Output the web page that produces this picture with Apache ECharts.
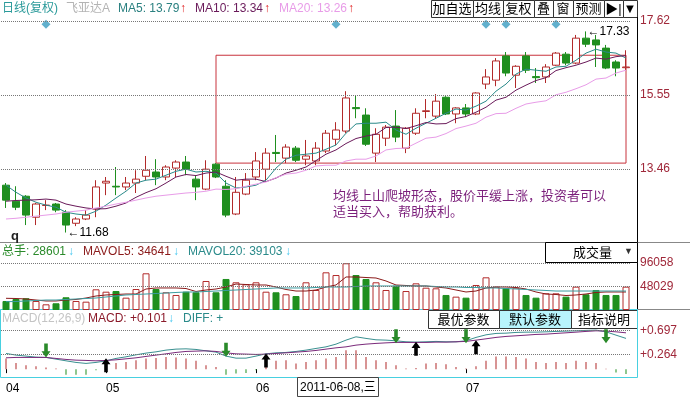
<!DOCTYPE html>
<html>
<head>
<meta charset="utf-8">
<title>飞亚达A 日线</title>
<script src="https://cdn.jsdelivr.net/npm/echarts@6/dist/echarts.min.js"></script>
<style>
html, body { margin: 0; padding: 0; background: #fff; }
#main { width: 690px; height: 397px; }
</style>
</head>
<body>
<div id="main"></div>
<script>
// 交易日
const dates = [
  '2011-04-18','2011-04-19','2011-04-20','2011-04-21','2011-04-22','2011-04-25','2011-04-26','2011-04-27','2011-04-28','2011-04-29',
  '2011-05-11','2011-05-12','2011-05-13','2011-05-16','2011-05-17','2011-05-18','2011-05-19','2011-05-20','2011-05-23','2011-05-24',
  '2011-05-25','2011-05-26','2011-05-27','2011-05-30','2011-05-31',
  '2011-06-01','2011-06-02','2011-06-03','2011-06-07','2011-06-08','2011-06-09','2011-06-10','2011-06-13','2011-06-14','2011-06-15',
  '2011-06-16','2011-06-17','2011-06-20','2011-06-21','2011-06-22','2011-06-23','2011-06-24','2011-06-27','2011-06-28','2011-06-29',
  '2011-06-30',
  '2011-07-01','2011-07-04','2011-07-05','2011-07-06','2011-07-07','2011-07-08','2011-07-11','2011-07-12','2011-07-13','2011-07-14',
  '2011-07-15','2011-07-18','2011-07-19','2011-07-20','2011-07-21','2011-07-22','2011-07-25'
];
// K线 [开, 收, 低, 高]
const kData = [
  [13.01,12.59,12.37,13.07],[12.56,12.39,12.31,12.98],[12.70,12.17,11.89,12.73],[12.11,12.48,11.89,12.51],[12.44,12.45,12.31,12.59],
  [12.48,12.31,12.25,12.51],[12.25,11.89,11.68,12.31],[11.94,12.06,11.86,12.11],[12.06,12.17,12.03,12.31],[12.34,12.96,12.11,13.15],
  [13.07,13.12,12.73,13.24],[12.98,12.96,12.73,13.52],[12.96,13.07,12.87,13.24],[13.07,13.18,12.79,13.43],[13.26,13.43,13.15,13.83],
  [13.38,13.24,13.01,13.74],[13.24,13.52,13.15,13.57],[13.49,13.66,13.24,13.71],[13.66,13.46,13.29,13.83],[13.18,12.96,12.59,13.29],
  [12.90,13.46,12.87,13.71],[13.60,13.24,13.21,13.63],[12.98,12.17,12.11,13.15],[12.20,12.81,12.17,13.24],[12.76,13.15,12.73,13.35],
  [13.24,13.69,13.15,13.94],[13.46,13.91,13.15,14.05],[13.93,13.90,13.66,14.42],[13.77,14.08,13.63,14.16],[14.05,13.71,13.66,14.11],
  [13.74,13.83,13.57,14.28],[13.69,14.05,13.57,14.22],[13.97,14.47,13.91,14.56],[14.30,14.56,14.13,14.78],[14.53,15.46,14.47,15.65],
  [15.19,15.16,14.89,15.54],[14.98,14.16,14.11,15.17],[13.91,14.44,13.66,14.61],[14.33,14.64,14.11,14.70],[14.67,14.36,14.22,15.12],
  [14.05,14.61,13.91,14.64],[14.47,15.03,14.42,15.17],[15.08,15.10,14.89,15.43],[14.95,15.37,14.89,15.57],[15.48,15.01,14.98,15.51],
  [15.01,15.18,14.75,15.20],[15.18,15.01,14.92,15.29],[15.01,15.60,14.98,15.62],[15.85,16.05,15.71,16.27],[15.96,16.50,15.79,16.58],
  [16.64,16.16,16.07,16.75],[16.10,16.35,15.74,16.38],[16.64,16.24,16.16,16.75],[16.06,16.03,15.88,16.30],[16.05,16.33,15.88,16.41],
  [16.38,16.72,16.36,16.75],[16.69,16.44,16.38,16.75],[16.44,17.14,16.41,17.23],[17.14,16.97,16.89,17.33],[17.09,16.95,16.33,17.23],
  [16.86,16.30,16.27,16.95],[16.47,16.30,16.07,16.52],[16.31,16.33,16.24,16.80]
];
const ma5 = [
  13.01,12.81,12.65,12.53,12.45,12.39,12.25,12.20,12.17,12.28,12.45,12.65,12.84,13.07,13.15,13.18,13.29,13.40,13.46,13.38,
  13.40,13.35,13.07,12.93,12.96,13.01,13.15,13.49,13.74,13.85,13.88,13.91,14.02,14.14,14.47,14.73,14.75,14.75,14.78,14.56,
  14.44,14.61,14.75,14.89,15.03,15.15,15.12,15.23,15.37,15.65,15.85,16.13,16.27,16.24,16.21,16.33,16.35,16.52,16.72,16.83,
  16.75,16.72,16.58
];
const ma10 = [
  12.56,12.58,12.59,12.60,12.62,12.59,12.48,12.42,12.37,12.34,12.35,12.42,12.51,12.67,12.80,12.91,13.07,13.24,13.31,13.28,
  13.35,13.38,13.26,13.15,13.18,13.18,13.11,13.21,13.35,13.43,13.52,13.70,13.88,14.00,14.18,14.32,14.39,14.44,14.63,14.64,
  14.60,14.68,14.77,14.73,14.74,14.88,14.94,15.06,15.20,15.40,15.48,15.68,15.82,15.95,16.03,16.23,16.31,16.38,16.47,16.58,
  16.55,16.62,16.65
];
const ma20 = [
  12.06,12.08,12.11,12.14,12.17,12.20,12.25,12.28,12.31,12.37,12.42,12.48,12.53,12.59,12.65,12.70,12.73,12.76,12.79,12.81,
  12.84,12.90,12.89,12.91,12.98,13.04,13.10,13.22,13.32,13.35,13.43,13.55,13.57,13.57,13.69,13.74,13.74,13.83,14.00,14.04,
  14.05,14.19,14.33,14.36,14.46,14.60,14.67,14.75,14.92,15.02,15.03,15.17,15.29,15.34,15.38,15.55,15.62,15.72,15.83,15.99,
  16.02,16.16,16.24
];
// 成交量(手)
const volumes = [
  18400,22500,24000,18400,11600,13700,26000,18400,17000,42300,37400,38800,25200,42900,75000,42900,36200,30700,37400,36200,
  59300,36200,63400,56600,52500,56600,37400,36200,32100,28600,56600,40900,77000,71500,95500,71500,63400,56600,40900,49700,
  38800,54500,45600,44300,30700,27300,25200,51100,66800,47700,44300,45600,30700,25200,34100,34100,27300,47700,32100,40900,
  30700,30700,47700
];
const mavol5 = [
  23900,23500,22500,20400,18400,18400,20400,21500,24500,28600,30700,31700,32700,32700,42900,45000,45000,45000,43900,37800,
  40900,42900,47000,53100,52100,51100,51100,47000,41900,38800,38800,40900,47000,51100,67500,67500,66400,65400,59300,51100,
  50100,49100,49100,47000,45000,40900,36800,38800,45000,47000,47000,46000,42900,36800,32700,31700,29600,30700,32700,35800,
  36800,36800,36800
];
const mavol20 = [
  17000,17400,18400,19400,20400,20400,21500,22500,23500,24500,26600,28600,30700,31700,32700,33700,34700,35800,36800,36800,
  37800,38800,39900,40900,41900,42900,43900,45000,45000,45000,45000,46000,47000,47000,47000,48000,49100,49100,49100,49100,
  49100,49100,49100,48000,47000,47000,46000,46000,45000,45000,43900,42900,41900,40900,39900,38800,38800,38800,38800,38800,
  38800,38800,38800
];
// MACD(12,26,9)
const dif = [
  0.283,0.253,0.235,0.216,0.211,0.180,0.150,0.121,0.103,0.121,0.150,0.193,0.222,0.258,0.289,0.312,0.343,0.361,0.366,0.355,
  0.330,0.307,0.235,0.198,0.198,0.235,0.276,0.294,0.301,0.319,0.343,0.373,0.402,0.451,0.523,0.583,0.554,0.529,0.523,0.511,
  0.493,0.487,0.493,0.500,0.493,0.493,0.511,0.572,0.619,0.644,0.649,0.662,0.667,0.667,0.673,0.680,0.686,0.691,0.698,0.704,
  0.673,0.613,0.554
];
const dea = [
  0.204,0.211,0.211,0.211,0.211,0.193,0.175,0.162,0.157,0.150,0.157,0.168,0.186,0.204,0.229,0.253,0.276,0.301,0.319,0.325,
  0.330,0.319,0.294,0.276,0.271,0.265,0.271,0.283,0.294,0.307,0.319,0.337,0.361,0.384,0.402,0.433,0.451,0.464,0.474,0.482,
  0.482,0.482,0.482,0.487,0.487,0.493,0.500,0.523,0.547,0.572,0.590,0.601,0.613,0.626,0.631,0.644,0.655,0.667,0.680,0.691,
  0.686,0.673,0.655
];
const macdBar = [
  0.19,0.11,0.07,0.05,0.03,0.01,-0.10,-0.10,-0.10,-0.02,0.03,0.11,0.13,0.16,0.19,0.20,0.22,0.21,0.19,0.15,
  0.07,0.04,-0.10,-0.08,-0.07,-0.02,0.08,0.15,0.16,0.10,0.13,0.16,0.19,0.22,0.34,0.34,0.22,0.16,0.13,0.07,
  0.01,0.02,0.10,0.11,0.09,0.04,0.01,0.05,0.15,0.23,0.23,0.22,0.19,0.13,0.11,0.13,0.11,0.15,0.13,0.11,
  0.005,-0.06,-0.09
];
const priceTicks = [13.46, 15.55, 17.62];
const volTicks = [48029, 96058];
const macdTicks = [0.264, 0.697];
const newsIdx = [4, 33, 48, 50, 55];            // 信息地雷
const crossDown = [4, 22, 39, 46, 60];          // 死叉
const crossDownAt = [0.211, 0.222, 0.469, 0.469, 0.469];
const crossUp = [10, 26, 41, 47];               // 金叉
const crossUpAt = [0.198, 0.283, 0.493, 0.523];
const boxRange = [21, 62, 16.66, 13.63];        // 形态框
const cursorIdx = 29;

const RED = '#b22a2a';
const GREEN = '#1f8f1f';
const FONT = '"Liberation Sans", "Noto Sans CJK SC", sans-serif';
const DOWN_ARROW = 'path://M3,0 L7,0 L7,9 L10,9 L5,16 L0,9 L3,9 Z';
const UP_ARROW = 'path://M5,0 L10,7 L7,7 L7,16 L3,16 L3,7 L0,7 Z';

function monthStart(i) {
  return i === 0 || dates[i].slice(5, 7) !== dates[i - 1].slice(5, 7);
}
function dotted(values) {
  return {
    silent: true,
    symbol: ['none', 'none'],
    label: { show: false },
    lineStyle: { type: 'dotted', color: '#777', width: 1 },
    data: values.map((v) => ({ yAxis: v })),
  };
}
function priceAxis(gridIndex, min, max, ticks, fmt) {
  return {
    type: 'value',
    gridIndex: gridIndex,
    position: 'right',
    min: min,
    max: max,
    axisLine: { show: false },
    axisTick: { show: false },
    splitLine: { show: false },
    axisLabel: {
      customValues: ticks,
      margin: 9,
      color: '#a0283a',
      fontSize: 12,
      fontFamily: FONT,
      formatter: fmt,
    },
  };
}
function catAxis(gridIndex, showLabel) {
  return {
    type: 'category',
    gridIndex: gridIndex,
    data: dates,
    boundaryGap: true,
    axisLine: { show: false },
    axisTick: {
      show: showLabel,
      interval: (i) => monthStart(i),
      alignWithLabel: true,
      length: 4,
      lineStyle: { color: '#000' },
    },
    axisLabel: {
      show: showLabel,
      interval: (i) => monthStart(i),
      align: 'left',
      margin: 5,
      color: '#000',
      fontSize: 12,
      fontFamily: FONT,
      formatter: (v) => v.slice(5, 7),
    },
    splitLine: { show: false },
  };
}
function txt(x, y, text, fill, size, bold) {
  return {
    type: 'text',
    x: x,
    y: y,
    style: {
      text: text,
      fill: fill,
      font: (bold ? 'bold ' : '') + (size || 12) + 'px ' + FONT,
      verticalAlign: 'middle',
    },
  };
}
function button(x, y, w, h, text, fill) {
  return [
    { type: 'rect', shape: { x: x + 0.5, y: y + 0.5, width: w, height: h }, style: { fill: fill || '#fff', stroke: '#333', lineWidth: 1 } },
    { type: 'text', x: x + w / 2, y: y + h / 2 + 1, style: { text: text, fill: '#000', font: '13px ' + FONT, align: 'center', verticalAlign: 'middle' } },
  ];
}

const volData = volumes.map((v, i) => {
  const up = kData[i][1] >= kData[i][0];
  return { value: v, itemStyle: { color: up ? '#fff' : GREEN, borderColor: up ? RED : GREEN, borderWidth: 1 } };
});
const macdData = macdBar.map((v) => ({ value: v, itemStyle: { color: v >= 0 ? RED : GREEN } }));

const arrowPoints = crossDown
  .map((i, n) => ({ coord: [i, crossDownAt[n]], symbol: DOWN_ARROW, symbolSize: [9, 14], symbolOffset: [0, '-50%'], itemStyle: { color: '#2a8a2a' } }))
  .concat(crossUp.map((i, n) => ({ coord: [i, crossUpAt[n]], symbol: UP_ARROW, symbolSize: [9, 14], symbolOffset: [0, '50%'], itemStyle: { color: '#000' } })));

let graphics = [];
// 顶部按钮
[['加自选', 431, 42], ['均线', 473, 30], ['复权', 503, 31], ['叠', 534, 19], ['窗', 553, 20], ['预测', 573, 31], ['▶|', 604, 19], ['▼', 623, 14]]
  .forEach((b) => { graphics = graphics.concat(button(b[1], 0, b[2], 17, b[0])); });
// 指标按钮
graphics = graphics.concat(button(428, 310, 71, 18, '最优参数'));
graphics = graphics.concat(button(499, 310, 72, 18, '默认参数', '#b8f4fc'));
graphics = graphics.concat(button(571, 310, 66, 18, '指标说明'));

graphics.push(
  { type: 'line', shape: { x1: 637.5, y1: 17, x2: 637.5, y2: 309 }, style: { stroke: '#000', lineWidth: 1 } },
  { type: 'line', shape: { x1: 0, y1: 242.5, x2: 690, y2: 242.5 }, style: { stroke: '#888', lineWidth: 1 } },
  { type: 'line', shape: { x1: 637, y1: 309.5, x2: 690, y2: 309.5 }, style: { stroke: '#888', lineWidth: 1 } },
  { type: 'rect', shape: { x: 0.5, y: 309.5, width: 637, height: 68 }, style: { fill: 'none', stroke: '#48d0e0', lineWidth: 1 } },
  { type: 'rect', shape: { x: 545.5, y: 242.5, width: 92, height: 20 }, style: { fill: '#fff', stroke: '#000', lineWidth: 1 } },
  txt(573, 253, '成交量', '#000', 13),
  txt(624, 252, '▼', '#333', 9),
  // 标题行
  txt(2, 9, '日线(复权)', '#2a9a9a'),
  txt(66, 9, '飞亚达A', '#b4b4b4'),
  txt(118, 9, 'MA5: 13.79', '#2a8080'),
  txt(180, 9, '↑', '#e02020', 12, true),
  txt(195, 9, 'MA10: 13.34', '#6a1a5a'),
  txt(264, 9, '↑', '#e02020', 12, true),
  txt(279, 9, 'MA20: 13.26', '#e89ce8'),
  txt(348, 9, '↑', '#e02020', 12, true),
  // 成交量标题
  txt(2, 252, '总手: 28601', '#2a8a2a'),
  txt(68, 252, '↓', '#48c8f0', 12, true),
  txt(83, 252, 'MAVOL5: 34641', '#8b1a1a'),
  txt(173, 252, '↓', '#48c8f0', 12, true),
  txt(188, 252, 'MAVOL20: 39103', '#2a8a8a'),
  txt(285, 252, '↓', '#48c8f0', 12, true),
  // MACD标题
  txt(2, 319, 'MACD(12,26,9)', '#c4c4c4'),
  txt(88, 319, 'MACD: +0.101', '#8b1a2a'),
  txt(168, 319, '↓', '#48c8f0', 12, true),
  txt(183, 319, 'DIFF: +', '#2a8a8a'),
  txt(11, 236, 'q', '#222', 13, true),
  {
    type: 'text',
    x: 333,
    y: 188,
    style: {
      text: '均线上山爬坡形态，股价平缓上涨，投资者可以\n适当买入，帮助获利。',
      fill: '#7b1f7b',
      font: '13px ' + FONT,
      lineHeight: 16,
    },
  }
);

const chart = echarts.init(document.getElementById('main'));
const option = {
  animation: false,
  backgroundColor: '#fff',
  grid: [
    { left: 1, top: 20, width: 630, height: 220 },
    { left: 1, top: 263, width: 630, height: 47 },
    { left: 1, top: 326, width: 630, height: 52 },
  ],
  xAxis: [catAxis(0, false), catAxis(1, false), catAxis(2, true)],
  yAxis: [
    priceAxis(0, 11.47, 17.65, priceTicks, (v) => v.toFixed(2)),
    priceAxis(1, 0, 96058, volTicks, (v) => String(Math.round(v))),
    priceAxis(2, -0.16, 0.778, macdTicks, (v) => '+' + v.toFixed(3)),
  ],
  series: [
    {
      name: 'K线',
      type: 'candlestick',
      xAxisIndex: 0,
      yAxisIndex: 0,
      data: kData,
      barWidth: 7,
      itemStyle: { color: '#fff', color0: GREEN, borderColor: RED, borderColor0: GREEN, borderWidth: 1 },
      markLine: dotted(priceTicks),
      markArea: {
        silent: true,
        itemStyle: { color: 'rgba(0,0,0,0)', borderColor: '#c8323c', borderWidth: 1 },
        data: [[{ coord: [boxRange[0], boxRange[2]] }, { coord: [boxRange[1], boxRange[3]] }]],
      },
      markPoint: {
        symbol: 'circle',
        symbolSize: 1,
        itemStyle: { color: 'rgba(0,0,0,0)' },
        label: {
          show: true,
          position: 'right',
          distance: 1,
          color: '#000',
          fontSize: 12,
          fontFamily: FONT,
          formatter: (p) => '←' + Number(p.value).toFixed(2),
        },
        data: [
          { type: 'max', valueDim: 'highest' },
          { type: 'min', valueDim: 'lowest' },
        ],
      },
    },
    { name: 'MA5', type: 'line', data: ma5, symbol: 'none', lineStyle: { width: 1, color: '#2a8a8a' } },
    { name: 'MA10', type: 'line', data: ma10, symbol: 'none', lineStyle: { width: 1, color: '#6a1a5a' } },
    { name: 'MA20', type: 'line', data: ma20, symbol: 'none', lineStyle: { width: 1, color: '#e89ce8' } },
    {
      name: '信息',
      type: 'scatter',
      data: newsIdx.map((i) => [i, 17.53]),
      symbol: 'diamond',
      symbolSize: 9,
      itemStyle: { color: '#3a9cc0' },
    },
    {
      name: '成交量',
      type: 'bar',
      xAxisIndex: 1,
      yAxisIndex: 1,
      data: volData,
      barWidth: 7,
      markLine: dotted(volTicks),
    },
    { name: 'MAVOL5', type: 'line', xAxisIndex: 1, yAxisIndex: 1, data: mavol5, symbol: 'none', lineStyle: { width: 1, color: '#8b1a1a' } },
    { name: 'MAVOL20', type: 'line', xAxisIndex: 1, yAxisIndex: 1, data: mavol20, symbol: 'none', lineStyle: { width: 1, color: '#3a9ca0' } },
    {
      name: 'MACD',
      type: 'bar',
      xAxisIndex: 2,
      yAxisIndex: 2,
      data: macdData,
      barWidth: 1,
      markLine: dotted(macdTicks),
    },
    {
      name: 'DIF',
      type: 'line',
      xAxisIndex: 2,
      yAxisIndex: 2,
      data: dif,
      symbol: 'none',
      lineStyle: { width: 1, color: '#3a9090' },
      markPoint: { data: arrowPoints, label: { show: false } },
    },
    { name: 'DEA', type: 'line', xAxisIndex: 2, yAxisIndex: 2, data: dea, symbol: 'none', lineStyle: { width: 1, color: '#7a2a7a' } },
  ],
  graphic: graphics,
};
chart.setOption(option);

// 光标日期框
const cx = chart.convertToPixel({ xAxisIndex: 2 }, cursorIdx);
const wd = '日一二三四五六'[new Date(dates[cursorIdx] + 'T00:00:00').getDay()];
graphics.push(
  { type: 'rect', shape: { x: Math.round(cx) + 1.5, y: 377.5, width: 81, height: 19 }, style: { fill: '#fff', stroke: '#444', lineWidth: 1 } },
  txt(Math.round(cx) + 4, 388, dates[cursorIdx] + ',' + wd, '#000', 12)
);
chart.setOption({ graphic: graphics });
</script>
</body>
</html>
